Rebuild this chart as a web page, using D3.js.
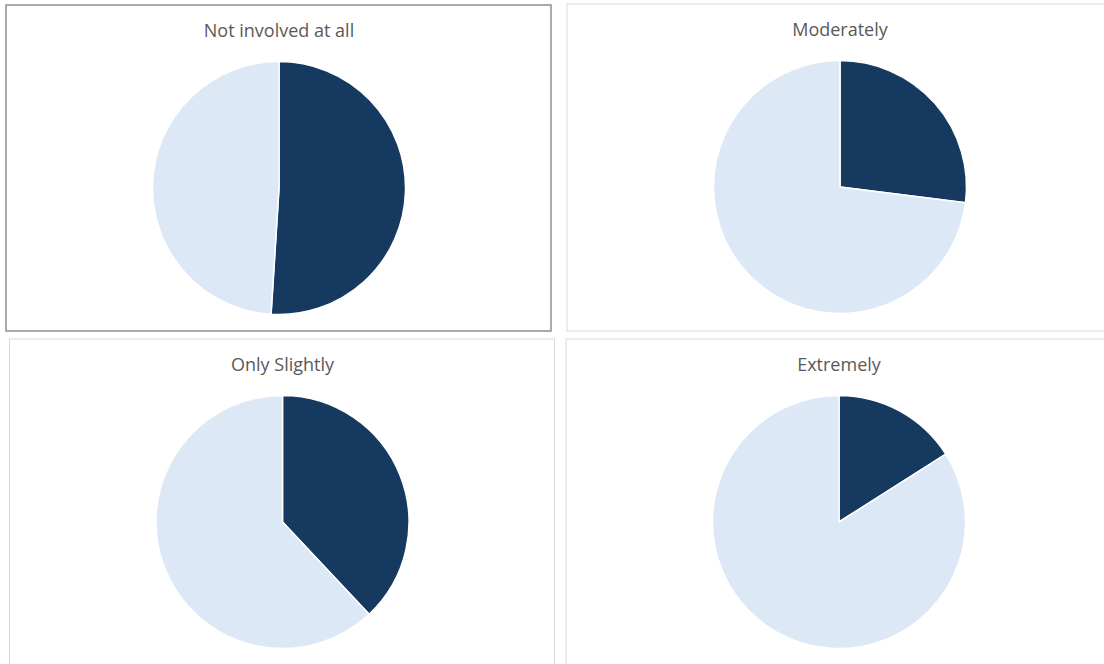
<!DOCTYPE html>
<html>
<head>
<meta charset="utf-8">
<script src="https://cdn.jsdelivr.net/npm/d3@7"></script>
<style>
  html, body { margin: 0; padding: 0; background: #ffffff; }
  svg { display: block; }
</style>
</head>
<body>
<svg id="chart" width="1104" height="664"></svg>
<script>
// Share of respondents per involvement level (dark = share, light = remainder)
const categories = ["Not involved at all", "Moderately", "Only Slightly", "Extremely"];
const shareValues = [51, 27, 38, 16];
const restValues = [49, 73, 62, 84];
const seriesNames = ["Share", "Rest"];

const colors = d3.scaleOrdinal().domain(seriesNames).range(["#163a5f", "#dce8f5"]);

// Panel frames laid out in a 2x2 grid
const panels = [
  { x: 6,   y: 5,   w: 545, h: 326, border: "#8e8e8e", bw: 1.5 },
  { x: 567, y: 4,   w: 546, h: 327, border: "#d9d9d9", bw: 1 },
  { x: 9.5, y: 339, w: 545, h: 330, border: "#d9d9d9", bw: 1 },
  { x: 566, y: 339, w: 546, h: 330, border: "#d9d9d9", bw: 1 }
];

const svg = d3.select("#chart");
const radius = 126.5;
const pie = d3.pie().sort(null).value(d => d.value);
const arc = d3.arc().innerRadius(0).outerRadius(radius);

categories.forEach((cat, i) => {
  const p = panels[i];
  const g = svg.append("g").attr("transform", `translate(${p.x},${p.y})`);

  g.append("rect")
    .attr("width", p.w).attr("height", p.h)
    .attr("fill", "#ffffff")
    .attr("stroke", p.border)
    .attr("stroke-width", p.bw);

  g.append("text")
    .attr("x", 273).attr("y", 31.5)
    .attr("text-anchor", "middle")
    .attr("font-family", "'Open Sans', sans-serif")
    .attr("font-size", 18)
    .attr("fill", "#595959")
    .text(cat);

  const data = [
    { name: seriesNames[0], value: shareValues[i] },
    { name: seriesNames[1], value: restValues[i] }
  ];

  const pg = g.append("g").attr("transform", `translate(${273},${183})`);
  pg.selectAll("path")
    .data(pie(data))
    .join("path")
    .attr("d", arc)
    .attr("fill", d => colors(d.data.name))
    .attr("stroke", "#ffffff")
    .attr("stroke-width", 1.5)
    .attr("stroke-linejoin", "round");
});
</script>
</body>
</html>
